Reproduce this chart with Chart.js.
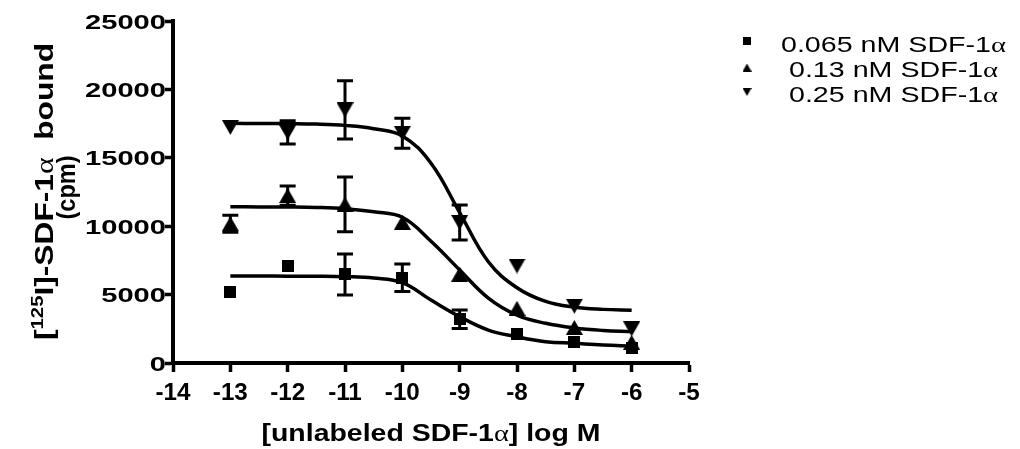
<!DOCTYPE html>
<html>
<head>
<meta charset="utf-8">
<script src="https://cdn.jsdelivr.net/npm/chart.js@4.4.1/dist/chart.umd.min.js"></script>
<style>
  html, body { margin: 0; padding: 0; background: #fff; }
  #wrap { width: 1020px; height: 449px; }
</style>
</head>
<body>
<div id="wrap"><canvas id="myChart" width="1020" height="449"></canvas></div>
<script>
'use strict'
// ==> data
let doseLog = [-13, -12, -11, -10, -9, -8, -7, -6];
let bound065 = [5190, 7090, 6470, 6230, 3200, 2120, 1530, 1130];
let err065 = [0, 0, 1500, 1010, 670, 0, 0, 0];
let bound13 = [10180, 12240, 11600, 10280, 6500, 4000, 2600, 1510];
let err13 = [620, 700, 2000, 0, 0, 0, 0, 0];
let bound25 = [17220, 16850, 18500, 16790, 10270, 7090, 4150, 2490];
let err25 = [0, 850, 2130, 1100, 1280, 0, 0, 0];

// fitted curves
let fitLog = [-13, -12.5, -12, -11.5, -11, -10.5, -10, -9.5, -9, -8.5, -8, -7.5, -7, -6.5, -6];
let fit065 = [6360, 6355, 6350, 6340, 6310, 6210, 5870, 4600, 3390, 2410, 1920, 1560, 1440, 1320, 1240];
let fit13 = [11420, 11410, 11400, 11370, 11280, 11060, 10650, 8900, 6800, 4750, 3500, 2900, 2560, 2380, 2300];
let fit25 = [17520, 17510, 17500, 17470, 17370, 17130, 16600, 14600, 11000, 7400, 5500, 4500, 4080, 3920, 3860];

let xTicks = [-14, -13, -12, -11, -10, -9, -8, -7, -6, -5];
let yTicks = [0, 5000, 10000, 15000, 20000, 25000];
let seriesNames = ['0.065 nM SDF-1α', '0.13 nM SDF-1α', '0.25 nM SDF-1α'];
let xTitle = '[unlabeled SDF-1α] log M';
let yTitle1 = ['[', '125', 'I]-SDF-1α  bound'];
let yTitle2 = '(cpm)';
//__________________________________________________________________________________==<

let SANS = '"Liberation Sans", Arial, sans-serif';
let SERIF = '"Liberation Serif", "Times New Roman", serif';

function toPts(xs, ys) {
    let out = [];
    for (let i = 0; i < xs.length; i++) {
        out.push({ x: xs[i], y: ys[i] });
    }
    return out;
}

// marker drawn in a small canvas, so the symbol box is centred on the value
function makeMarker(kind, w, h) {
    let c = document.createElement('canvas');
    c.width = w;
    c.height = h;
    let g = c.getContext('2d');
    g.fillStyle = '#000';
    g.beginPath();
    if (kind === 'square') {
        g.rect(0, 0, w, h);
    } else if (kind === 'up') {
        g.moveTo(w / 2, 0); g.lineTo(w, h); g.lineTo(0, h);
    } else {
        g.moveTo(0, 0); g.lineTo(w, 0); g.lineTo(w / 2, h);
    }
    g.closePath();
    g.fill();
    return c;
}

let mkSquare = makeMarker('square', 12, 12);
let mkUp = makeMarker('up', 17, 15);
let mkDown = makeMarker('down', 17, 15);

// text pieces: alpha is set in a serif face like the original
function segs(str, font, alphaFont) {
    let parts = str.split('α');
    let out = [];
    for (let i = 0; i < parts.length; i++) {
        if (parts[i]) out.push({ t: parts[i], font: font });
        if (i < parts.length - 1) out.push({ t: 'α', font: alphaFont });
    }
    return out;
}

function measure(ctx, list) {
    let w = 0;
    list.forEach(s => { ctx.font = s.font; s.w = ctx.measureText(s.t).width; w += s.w; });
    return w;
}

function drawRich(ctx, list, x, y, align, sx) {
    let w = measure(ctx, list);
    ctx.save();
    ctx.translate(x, y);
    ctx.scale(sx, 1);
    ctx.fillStyle = '#000';
    ctx.textBaseline = 'alphabetic';
    ctx.textAlign = 'left';
    let cx = align === 'center' ? -w / 2 : (align === 'right' ? -w : 0);
    list.forEach(s => { ctx.font = s.font; ctx.fillText(s.t, cx, s.dy || 0); cx += s.w; });
    ctx.restore();
}

function fitScale(ctx, list, target) {
    return target / measure(ctx, list);
}

let errorBars = {
    id: 'errorBars',
    beforeDatasetsDraw(chart) {
        let ctx = chart.ctx;
        let xs = chart.scales.x, ys = chart.scales.y;
        let sets = [[bound065, err065], [bound13, err13], [bound25, err25]];
        ctx.save();
        ctx.strokeStyle = '#000';
        ctx.lineWidth = 3;
        sets.forEach(([vals, errs]) => {
            for (let i = 0; i < doseLog.length; i++) {
                if (!errs[i]) continue;
                let px = xs.getPixelForValue(doseLog[i]);
                let top = ys.getPixelForValue(vals[i] + errs[i]);
                let bot = ys.getPixelForValue(vals[i] - errs[i]);
                ctx.beginPath();
                ctx.moveTo(px, top); ctx.lineTo(px, bot);
                ctx.moveTo(px - 8, top); ctx.lineTo(px + 8, top);
                ctx.moveTo(px - 8, bot); ctx.lineTo(px + 8, bot);
                ctx.stroke();
            }
        });
        ctx.restore();
    }
};

let textLayer = {
    id: 'textLayer',
    afterDraw(chart) {
        let ctx = chart.ctx;
        let xs = chart.scales.x, ys = chart.scales.y;

        // y tick labels
        let yFont = 'bold 21px ' + SANS;
        let ySx = fitScale(ctx, [{ t: '25000', font: yFont }], 81);
        yTicks.forEach(v => {
            drawRich(ctx, [{ t: String(v), font: yFont }], 166, ys.getPixelForValue(v) + 7.5, 'right', ySx);
        });

        // x tick labels
        let xFont = 'bold 23px ' + SANS;
        let xSx = fitScale(ctx, [{ t: '-14', font: xFont }], 35);
        xTicks.forEach(v => {
            drawRich(ctx, [{ t: String(v), font: xFont }], xs.getPixelForValue(v), 400, 'center', xSx);
        });

        // x title
        let xt = segs(xTitle, 'bold 24px ' + SANS, '24px ' + SERIF);
        drawRich(ctx, xt, (chart.chartArea.left + chart.chartArea.right) / 2, 441, 'center', fitScale(ctx, xt, 339));

        // y title, two lines, rotated
        let tf = 'bold 25px ' + SANS;
        let l1 = [{ t: yTitle1[0], font: tf }, { t: yTitle1[1], font: 'bold 16px ' + SANS, dy: -10 }]
            .concat(segs(yTitle1[2], tf, '25px ' + SERIF));
        let tSx = fitScale(ctx, l1, 297);
        ctx.save();
        ctx.translate(53, 191.5);
        ctx.rotate(-Math.PI / 2);
        drawRich(ctx, l1, 0, 0, 'center', tSx);
        let l2 = [{ t: yTitle2, font: 'bold 25px ' + SANS }];
        drawRich(ctx, l2, 4, 22, 'center', fitScale(ctx, l2, 64));
        ctx.restore();

        // legend
        let lf = '22px ' + SANS;
        let la = '22px ' + SERIF;
        let lSx = fitScale(ctx, segs(seriesNames[0], lf, la), 225);
        let rows = [51.7, 76.7, 101.7];
        let textX = [781, 789, 789];
        let markY = [41, 67.5, 92];
        let marks = [makeMarker('square', 8, 8), makeMarker('up', 9, 8), makeMarker('down', 9, 8)];
        for (let i = 0; i < seriesNames.length; i++) {
            ctx.drawImage(marks[i], 747 - marks[i].width / 2, markY[i] - marks[i].height / 2);
            drawRich(ctx, segs(seriesNames[i], lf, la), textX[i], rows[i], 'left', lSx);
        }
    }
};

function pointSet(vals, marker) {
    return {
        data: toPts(doseLog, vals),
        showLine: false,
        pointStyle: marker,
        pointRadius: 8,
        backgroundColor: '#000',
        borderColor: '#000'
    };
}

function curveSet(vals) {
    return {
        data: toPts(fitLog, vals),
        showLine: true,
        pointRadius: 0,
        borderColor: '#000',
        borderWidth: 3.5,
        tension: 0.4,
        fill: false
    };
}

let ctx = document.getElementById('myChart').getContext('2d');
let myChart = new Chart(ctx, {
    type: 'scatter',
    data: {
        datasets: [
            curveSet(fit065), curveSet(fit13), curveSet(fit25),
            pointSet(bound065, mkSquare), pointSet(bound13, mkUp), pointSet(bound25, mkDown)
        ]
    },
    options: {
        responsive: false,
        animation: false,
        devicePixelRatio: 1,
        events: [],
        layout: { padding: { left: 0, top: 21, right: 331, bottom: 0 } },
        plugins: { legend: { display: false }, tooltip: { enabled: false } },
        scales: {
            x: {
                type: 'linear', min: -14, max: -5,
                afterBuildTicks: s => { s.ticks = xTicks.map(v => ({ value: v })); },
                afterFit: s => { s.height = 86; },
                ticks: { display: false },
                grid: { display: true, drawOnChartArea: false, drawTicks: true, tickLength: 9, tickWidth: 3.5, tickColor: '#000' },
                border: { display: true, width: 4, color: '#000' }
            },
            y: {
                type: 'linear', min: 0, max: 25000,
                afterBuildTicks: s => { s.ticks = yTicks.map(v => ({ value: v })); },
                afterFit: s => { s.width = 173; },
                ticks: { display: false },
                grid: { display: true, drawOnChartArea: false, drawTicks: true, tickLength: 8, tickWidth: 3.5, tickColor: '#000' },
                border: { display: true, width: 4, color: '#000' }
            }
        }
    },
    plugins: [errorBars, textLayer]
});
//__________________________________________________________________________________________END==<
</script>
</body>
</html>
